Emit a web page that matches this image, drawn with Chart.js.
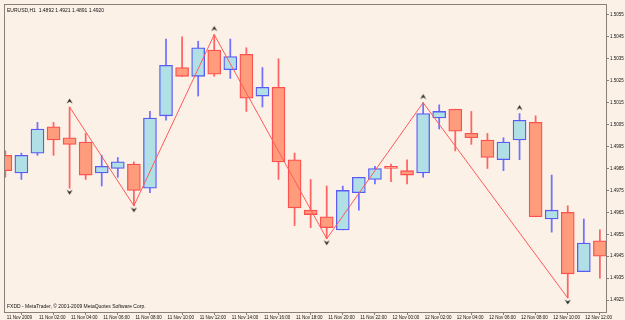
<!DOCTYPE html>
<html>
<head>
<meta charset="utf-8">
<script src="https://cdn.jsdelivr.net/npm/chart.js@4.4.1/dist/chart.umd.min.js"></script>
<style>
  html, body { margin: 0; padding: 0; background: #fbf1e6; }
  #wrap { width: 625px; height: 320px; position: relative; }
</style>
</head>
<body>
<div id="wrap"><canvas id="priceChart"></canvas></div>
<script>
// EURUSD H1 bars, 11 Nov 2009 00:00 .. 12 Nov 2009 13:00
const opens  = [1.4991, 1.4983, 1.4992, 1.5004, 1.4999, 1.4997, 1.4983, 1.4985, 1.4987, 1.4976,
                1.5009, 1.5031, 1.5027, 1.5039, 1.5030, 1.5037, 1.5018, 1.5022, 1.4989, 1.4966,
                1.4963, 1.4957, 1.4974, 1.4980, 1.4986, 1.4984, 1.4983, 1.5008, 1.5012, 1.5001,
                1.4998, 1.4989, 1.4998, 1.5006, 1.4962, 1.4965, 1.4938, 1.4952];
const highs  = [1.4993, 1.4992, 1.5006, 1.5006, 1.5013, 1.5001, 1.4991, 1.4990, 1.4988, 1.5011,
                1.5044, 1.5045, 1.5043, 1.5046, 1.5044, 1.5040, 1.5031, 1.5035, 1.4992, 1.4980,
                1.4977, 1.4977, 1.4981, 1.4986, 1.4987, 1.4989, 1.5015, 1.5014, 1.5012, 1.5011,
                1.5001, 1.4999, 1.5010, 1.5009, 1.4982, 1.4968, 1.4962, 1.4957];
const lows   = [1.4981, 1.4980, 1.4991, 1.4991, 1.4976, 1.4980, 1.4977, 1.4981, 1.4968, 1.4974,
                1.5007, 1.5027, 1.5018, 1.5027, 1.5026, 1.5011, 1.5013, 1.4980, 1.4959, 1.4958,
                1.4953, 1.4957, 1.4966, 1.4978, 1.4979, 1.4978, 1.4981, 1.5003, 1.4993, 1.4996,
                1.4985, 1.4984, 1.4989, 1.4963, 1.4956, 1.4926, 1.4938, 1.4935];
const closes = [1.4984, 1.4991, 1.5003, 1.4998, 1.4996, 1.4982, 1.4986, 1.4988, 1.4975, 1.5008,
                1.5032, 1.5027, 1.5040, 1.5028, 1.5036, 1.5017, 1.5022, 1.4988, 1.4967, 1.4964,
                1.4958, 1.4975, 1.4981, 1.4985, 1.4985, 1.4982, 1.5010, 1.5011, 1.5002, 1.4999,
                1.4990, 1.4997, 1.5007, 1.4963, 1.4966, 1.4937, 1.4951, 1.4945];

// zigzag pivots (bar index, 'H' = high, 'L' = low)
const zigzagBars  = [4, 8, 13, 20, 26, 35];
const zigzagTypes = ['H', 'L', 'H', 'L', 'H', 'L'];

// fractal arrows
const upFractals   = [4, 13, 26, 32];
const downFractals = [4, 8, 20, 35];

// axis ticks
const yTicks = [1.4925, 1.4935, 1.4945, 1.4955, 1.4965, 1.4975, 1.4985,
                1.4995, 1.5005, 1.5015, 1.5025, 1.5035, 1.5045, 1.5055];
const xTickBars = [0, 2, 4, 6, 8, 10, 12, 14, 16, 18, 20, 22, 24, 26, 28, 30, 32, 34, 36];
const xTickLabels = ['11 Nov 2009', '11 Nov 02:00', '11 Nov 04:00', '11 Nov 06:00', '11 Nov 08:00',
                     '11 Nov 10:00', '11 Nov 12:00', '11 Nov 14:00', '11 Nov 16:00', '11 Nov 18:00',
                     '11 Nov 20:00', '11 Nov 22:00', '12 Nov 00:00', '12 Nov 02:00', '12 Nov 04:00',
                     '12 Nov 06:00', '12 Nov 08:00', '12 Nov 10:00', '12 Nov 12:00'];

const headerText = 'EURUSD,H1  1.4892 1.4921 1.4891 1.4920';
const footerText = 'FXDD - MetaTrader, \u00A9 2001-2009 MetaQuotes Software Corp.';

const BULL_FILL = '#b0e0e6', BULL_LINE = '#5a5af5';
const BEAR_FILL = '#ff9c7c', BEAR_LINE = '#ff5050';
const FRAME = '#8a8078';
const AXIS_FONT = { family: 'Liberation Sans', size: 4.5 };

const isBull = i => closes[i] >= opens[i];

// small chevron images used as point styles (offset inside the image)
const makeArrow = (up) => {
    const c = document.createElement('canvas');
    c.width = 7; c.height = 24;
    const g = c.getContext('2d');
    const cx = 3.5, cy = up ? 6 : 16;
    const d = up ? 1 : -1;
    g.fillStyle = '#1e1e1e';
    g.beginPath();
    g.moveTo(cx, cy - 2.6 * d);
    g.lineTo(cx + 3, cy + 2.6 * d);
    g.lineTo(cx, cy + 0.6 * d);
    g.lineTo(cx - 3, cy + 2.6 * d);
    g.closePath();
    g.fill();
    return c;
};

const bodies = opens.map((o, i) => ({ x: i, y: [o, closes[i]] }));
const wicks  = lows.map((l, i) => ({ x: i, y: [l, highs[i]] }));
const zigzag = zigzagBars.map((b, k) => ({ x: b, y: zigzagTypes[k] === 'H' ? highs[b] : lows[b] }));

const framePlugin = {
    id: 'mtFrame',
    beforeDraw(chart) {
        const ctx = chart.ctx;
        ctx.save();
        ctx.fillStyle = '#fbf1e6';
        ctx.fillRect(0, 0, chart.width, chart.height);
        ctx.restore();
    },
    afterDraw(chart) {
        const { ctx, chartArea: a } = chart;
        ctx.save();
        ctx.strokeStyle = FRAME;
        ctx.lineWidth = 1;
        ctx.strokeRect(Math.round(a.left) - 0.5, Math.round(a.top) - 0.5,
                       Math.round(a.right - a.left) + 1, Math.round(a.bottom - a.top) + 1);
        ctx.fillStyle = '#111';
        ctx.font = '5px "Liberation Sans"';
        ctx.textBaseline = 'top';
        ctx.fillText(headerText, a.left + 2, a.top + 3);
        ctx.textBaseline = 'bottom';
        ctx.fillText(footerText, a.left + 2, a.bottom - 3);
        ctx.restore();
    }
};

new Chart(document.getElementById('priceChart'), {
    type: 'bar',
    data: {
        datasets: [
            {
                type: 'line',
                data: zigzag,
                borderColor: '#ff5a5a',
                borderWidth: 1,
                pointRadius: 0,
                order: 0
            },
            {
                type: 'scatter',
                data: upFractals.map(b => ({ x: b, y: highs[b] })),
                pointStyle: makeArrow(true),
                pointRadius: 4,
                order: 0
            },
            {
                type: 'scatter',
                data: downFractals.map(b => ({ x: b, y: lows[b] })),
                pointStyle: makeArrow(false),
                pointRadius: 4,
                order: 0
            },
            {
                data: bodies,
                grouped: false,
                barThickness: 13,
                borderWidth: 1.3,
                borderSkipped: false,
                backgroundColor: bodies.map((_, i) => isBull(i) ? BULL_FILL : BEAR_FILL),
                borderColor: bodies.map((_, i) => isBull(i) ? BULL_LINE : BEAR_LINE),
                order: 1
            },
            {
                data: wicks,
                grouped: false,
                barThickness: 1.1,
                borderWidth: 0,
                backgroundColor: wicks.map((_, i) => isBull(i) ? '#7272ff' : '#ff6464'),
                order: 2
            }
        ]
    },
    options: {
        responsive: true,
        maintainAspectRatio: false,
        animation: false,
        events: [],
        layout: { padding: { left: 2, top: 2, right: 0, bottom: 0 } },
        plugins: { legend: { display: false }, tooltip: { enabled: false } },
        scales: {
            x: {
                type: 'linear',
                offset: false,
                min: -0.02,
                max: 37.38,
                border: { display: false },
                grid: { display: true, drawOnChartArea: false, drawTicks: true, tickLength: 3, color: FRAME },
                afterBuildTicks: s => { s.ticks = xTickBars.map(v => ({ value: v })); },
                afterFit: s => { s.height = 8; },
                ticks: {
                    autoSkip: false,
                    maxRotation: 0,
                    align: 'start',
                    labelOffset: 1.5,
                    padding: 0,
                    color: '#111',
                    font: AXIS_FONT,
                    callback: v => xTickLabels[xTickBars.indexOf(v)]
                }
            },
            y: {
                position: 'right',
                min: 1.49196,
                max: 1.50595,
                border: { display: false },
                grid: { display: true, drawOnChartArea: false, drawTicks: true, tickLength: 3, color: FRAME },
                afterBuildTicks: s => { s.ticks = yTicks.map(v => ({ value: v })); },
                afterFit: s => { s.width = 19; },
                ticks: {
                    padding: 1,
                    color: '#111',
                    font: AXIS_FONT,
                    callback: v => v.toFixed(4)
                }
            }
        }
    },
    plugins: [framePlugin]
});
</script>
</body>
</html>
